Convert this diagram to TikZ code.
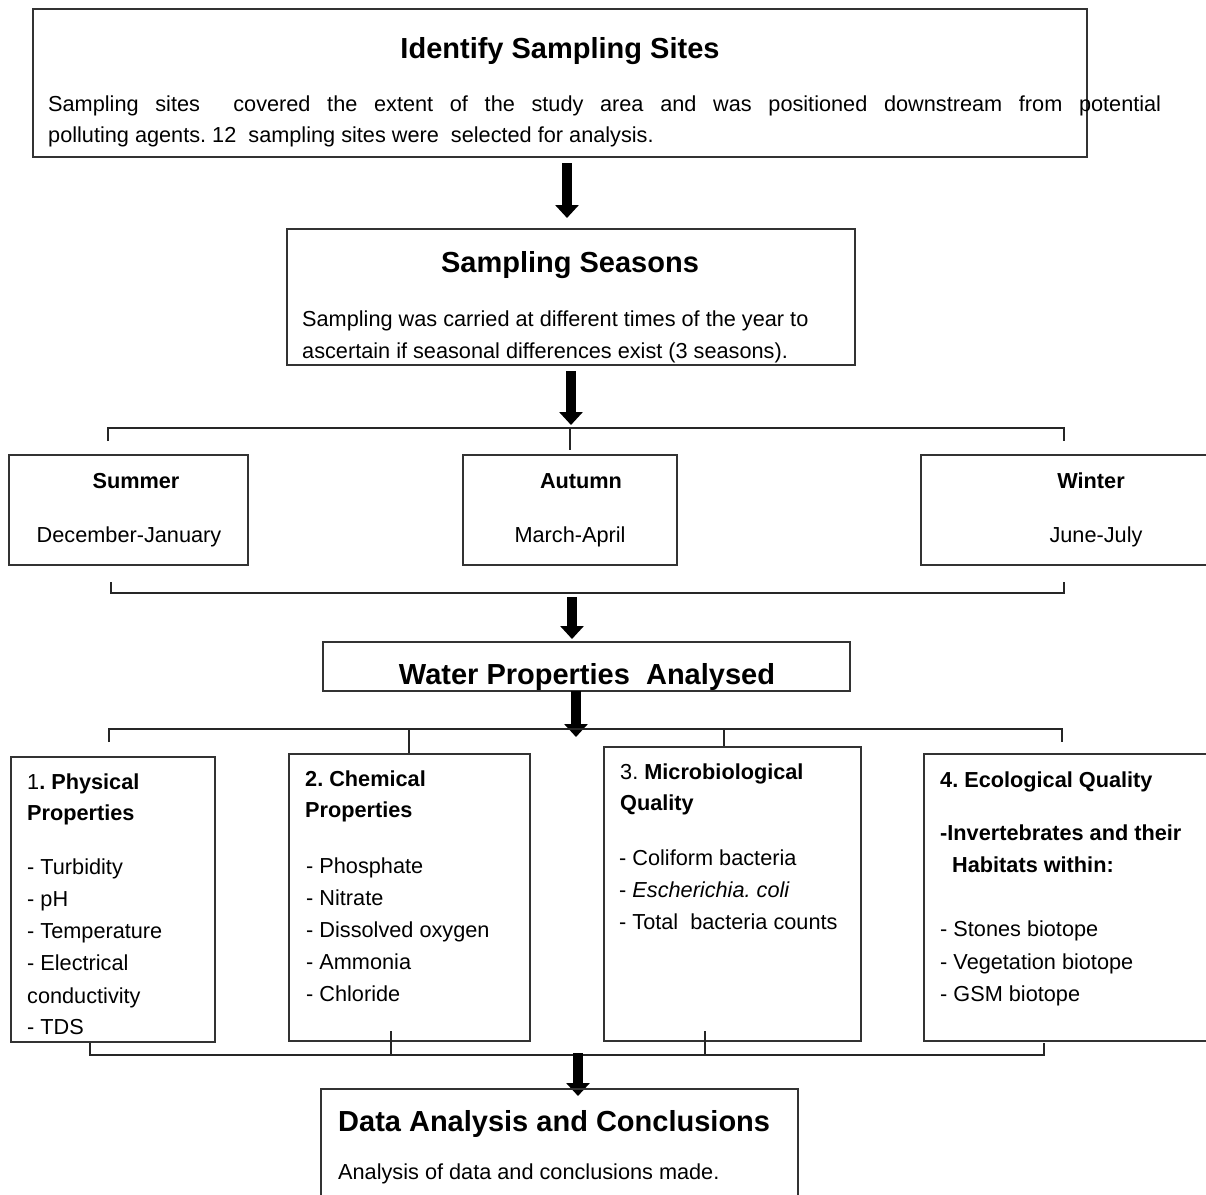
\documentclass[tikz,border=0pt]{standalone}
\usepackage{fontspec}
\setmainfont{Liberation Sans}
\usetikzlibrary{arrows.meta}
\frenchspacing
\begin{document}
\begin{tikzpicture}[x=1pt,y=-1pt,
  box/.style={draw=black!80, line width=1.4pt, rectangle, inner sep=0pt, outer sep=0pt, anchor=north west},
  txt/.style={inner sep=0pt, anchor=base west, font=\fontsize{21.7}{26}\selectfont},
  ctxt/.style={inner sep=0pt, anchor=base, font=\fontsize{21.7}{26}\selectfont},
  hd/.style={inner sep=0pt, anchor=base west, font=\fontsize{21.7}{26}\selectfont\bfseries},
  chd/.style={inner sep=0pt, anchor=base, font=\fontsize{21.7}{26}\selectfont\bfseries},
  ttl/.style={inner sep=0pt, anchor=base, font=\fontsize{29}{35}\selectfont\bfseries},
  link/.style={draw=black!85, line width=1.3pt},
  bigarrow/.style={line width=10pt, -{Triangle[width=23pt,length=13pt]}}]
\useasboundingbox (0,0) rectangle (1206,1194);

% Box 1
\node[box, minimum width=1054pt, minimum height=148pt] (b1) at (33,9) {};
\node[ttl] (t1) at (560,58) {Identify Sampling Sites};
\node[txt] (d1a) at (48,111) {\makebox[1113pt][s]{Sampling sites\ \ covered the extent of the study area and was positioned downstream from potential}};
\node[txt] (d1b) at (48,142) {polluting agents. 12\ \ sampling sites were\ \ selected for analysis.};

% Box 2
\node[box, minimum width=568pt, minimum height=136pt] (b2) at (287,229) {};
\node[ttl] (t2) at (570,272) {Sampling Seasons};
\node[txt] (d2a) at (302,326) {Sampling was carried at different times of the year to};
\node[txt] (d2b) at (302,358) {ascertain if seasonal differences exist (3 seasons).};

% arrows
\coordinate (a1s) at (567,163); \coordinate (a1e) at (567,218);
\coordinate (a2s) at (571,371); \coordinate (a2e) at (571,425);
\coordinate (a3s) at (572,597); \coordinate (a3e) at (572,639);
\coordinate (a4s) at (576,691); \coordinate (a4e) at (576,737);
\coordinate (a5s) at (578,1053); \coordinate (a5e) at (578,1096);
\draw[bigarrow] (a1s) -- (a1e);
\draw[bigarrow] (a2s) -- (a2e);

% bracket 1
\draw[link] (108,441) -- (108,428) -- (1064,428) -- (1064,441);
\draw[link] (570,428) -- (570,450);

% seasons
\node[box, minimum width=239pt, minimum height=110pt] (s1) at (9,455) {};
\node[box, minimum width=214pt, minimum height=110pt] (s2) at (463,455) {};
\node[box, minimum width=400pt, minimum height=110pt] (s3) at (921,455) {};
\node[chd] (s1t) at (136,488) {Summer};
\node[ctxt] (s1d) at (129,542) {December-January};
\node[chd] (s2t) at (581,488) {Autumn};
\node[ctxt] (s2d) at (570,542) {March-April};
\node[chd] (s3t) at (1091,488) {Winter};
\node[ctxt] (s3d) at (1096,542) {June-July};

% bracket 2
\draw[link] (111,582) -- (111,593) -- (1064,593) -- (1064,582);
\draw[bigarrow] (a3s) -- (a3e);

% water box
\node[box, minimum width=527pt, minimum height=49pt] (w) at (323,642) {};
\node[ttl] (wt) at (587,684) {Water Properties\ \ Analysed};
\draw[bigarrow] (a4s) -- (a4e);

% bracket 3
\draw[link] (109,742) -- (109,729) -- (1062,729) -- (1062,742);
\draw[link] (409,729) -- (409,753);
\draw[link] (724,729) -- (724,747);

% property boxes
\node[box, minimum width=204pt, minimum height=285pt] (p1) at (11,757) {};
\node[box, minimum width=241pt, minimum height=287pt] (p2) at (289,754) {};
\node[box, minimum width=257pt, minimum height=294pt] (p3) at (604,747) {};
\node[box, minimum width=400pt, minimum height=287pt] (p4) at (924,754) {};

\node[txt] (p1a) at (27,789) {1\textbf{. Physical}};
\node[hd] (p1b) at (27,820) {Properties};
\node[txt] (p1c) at (27,874) {- Turbidity};
\node[txt] (p1d) at (27,906) {- pH};
\node[txt] (p1e) at (27,938) {- Temperature};
\node[txt] (p1f) at (27,970) {- Electrical};
\node[txt] (p1g) at (27,1003) {conductivity};
\node[txt] (p1h) at (27,1034) {- TDS};

\node[hd] (p2a) at (305,786) {2. Chemical};
\node[hd] (p2b) at (305,817) {Properties};
\node[txt] (p2c) at (306,873) {- Phosphate};
\node[txt] (p2d) at (306,905) {- Nitrate};
\node[txt] (p2e) at (306,937) {- Dissolved oxygen};
\node[txt] (p2f) at (306,969) {- Ammonia};
\node[txt] (p2g) at (306,1001) {- Chloride};

\node[txt] (p3a) at (620,779) {3. \textbf{Microbiological}};
\node[hd] (p3b) at (620,810) {Quality};
\node[txt] (p3c) at (619,865) {- Coliform bacteria};
\node[txt] (p3d) at (619,897) {- \textit{Escherichia. coli}};
\node[txt] (p3e) at (619,929) {- Total\ \ bacteria counts};

\node[hd] (p4a) at (940,787) {4. Ecological Quality};
\node[hd] (p4b) at (940,840) {-Invertebrates and their};
\node[hd] (p4c) at (952,872) {Habitats within:};
\node[txt] (p4d) at (940,936) {- Stones biotope};
\node[txt] (p4e) at (940,969) {- Vegetation biotope};
\node[txt] (p4f) at (940,1001) {- GSM biotope};

% bracket 4
\draw[link] (90,1043) -- (90,1055) -- (1044,1055) -- (1044,1043);
\draw[link] (391,1031) -- (391,1055);
\draw[link] (705,1031) -- (705,1055);
\draw[bigarrow] (a5s) -- (a5e);

% final box
\node[box, minimum width=477pt, minimum height=200pt] (f) at (321,1089) {};
\node[inner sep=0pt, anchor=base west, font=\fontsize{29}{35}\selectfont\bfseries] (ft) at (338,1131) {Data Analysis and Conclusions};
\node[txt] (fd) at (338,1179) {Analysis of data and conclusions made.};
\end{tikzpicture}
\end{document}
